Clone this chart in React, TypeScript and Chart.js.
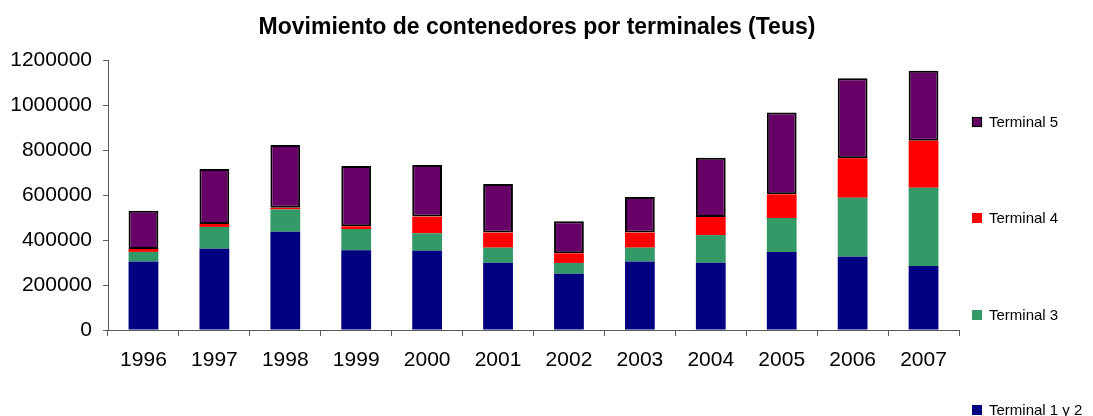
import React, { useEffect, useRef } from "react";
import { Chart, registerables } from "chart.js";

Chart.register(...registerables);

const years = ["1996", "1997", "1998", "1999", "2000", "2001", "2002", "2003", "2004", "2005", "2006", "2007"];
const terminal12 = [305000, 361000, 437000, 354000, 352000, 299000, 250000, 305000, 299000, 347000, 326000, 284000];
const terminal3 = [42000, 97000, 99000, 95000, 78000, 67000, 48000, 61000, 123000, 151000, 262000, 348000];
const terminal4 = [13000, 13000, 7000, 12000, 74000, 67000, 43000, 67000, 80000, 105000, 175000, 209000];
const terminal5 = [170000, 245000, 279000, 268000, 229000, 216000, 142000, 158000, 264000, 364000, 356000, 311000];
const yTickValues = [0, 200000, 400000, 600000, 800000, 1000000, 1200000];

const titleText = "Movimiento de contenedores por terminales (Teus)";
const FONT = "'Liberation Sans', Arial, sans-serif";

const customPlugin = {
  id: "customText",
  afterDraw(chart: any) {
    const ctx = chart.ctx as CanvasRenderingContext2D;
    ctx.save();
    // title
    ctx.fillStyle = "#000";
    ctx.font = `bold 23px ${FONT}`;
    ctx.textAlign = "center";
    ctx.textBaseline = "middle";
    ctx.fillText(titleText, 537, 28);
    // legend (reverse order, Excel-style)
    const ds = chart.data.datasets.slice().reverse();
    const ys = [122, 218, 315, 410];
    ctx.font = `15px ${FONT}`;
    ctx.textAlign = "left";
    ds.forEach((d: any, i: number) => {
      const y = ys[i];
      ctx.fillStyle = d.backgroundColor;
      ctx.fillRect(972, y - 5, 10, 10);
      if (d.borderWidth && d.borderWidth > 0) {
        ctx.strokeStyle = "#000";
        ctx.lineWidth = 1.2;
        ctx.strokeRect(972.5, y - 4.5, 9, 9);
      }
      ctx.fillStyle = "#000";
      ctx.fillText(d.label, 989, y + 1);
    });
    ctx.restore();
  },
};

export default function App() {
  const ref = useRef<HTMLCanvasElement | null>(null);
  useEffect(() => {
    if (!ref.current) return;
    const axisColor = "#5a5a5a";
    const chart = new Chart(ref.current, {
      type: "bar",
      data: {
        labels: years,
        datasets: [
          { label: "Terminal 1 y 2", data: terminal12, backgroundColor: "#000080", borderWidth: 0, barPercentage: 0.42, categoryPercentage: 1 },
          { label: "Terminal 3", data: terminal3, backgroundColor: "#339966", borderWidth: 0, barPercentage: 0.42, categoryPercentage: 1 },
          { label: "Terminal 4", data: terminal4, backgroundColor: "#FF0000", borderWidth: 0, barPercentage: 0.42, categoryPercentage: 1 },
          { label: "Terminal 5", data: terminal5, backgroundColor: "#660066", borderColor: "#000000", borderWidth: 2, borderSkipped: false, barPercentage: 0.42, categoryPercentage: 1 },
        ],
      },
      options: {
        animation: false,
        responsive: false,
        devicePixelRatio: 1,
        layout: { padding: { top: 60, right: 134, left: 0, bottom: 0 } },
        plugins: {
          legend: { display: false },
          title: { display: false },
          tooltip: { enabled: false },
        },
        scales: {
          x: {
            stacked: true,
            grid: { display: true, drawOnChartArea: false, drawTicks: true, tickLength: 6, color: axisColor, offset: true },
            border: { display: true, color: axisColor, width: 1 },
            ticks: { color: "#000", font: { family: FONT, size: 21 }, padding: 12, maxRotation: 0 },
            afterFit(scale: any) {
              scale.height = 86;
            },
          },
          y: {
            stacked: true,
            min: 0,
            max: 1200000,
            afterBuildTicks(scale: any) {
              scale.ticks = yTickValues.map((v) => ({ value: v }));
            },
            grid: { display: true, drawOnChartArea: false, drawTicks: true, tickLength: 5, color: axisColor },
            border: { display: true, color: axisColor, width: 1 },
            ticks: {
              color: "#000",
              font: { family: FONT, size: 21 },
              padding: 11,
              callback: (v: any) => String(v),
            },
            afterFit(scale: any) {
              scale.width = 108;
            },
          },
        },
      },
      plugins: [customPlugin],
    });
    return () => chart.destroy();
  }, []);
  return (
    <div style={{ position: "absolute", left: 0, top: 0, width: 1093, height: 416, background: "#fff" }}>
      <canvas ref={ref} width={1093} height={416} style={{ display: "block" }} />
    </div>
  );
}
